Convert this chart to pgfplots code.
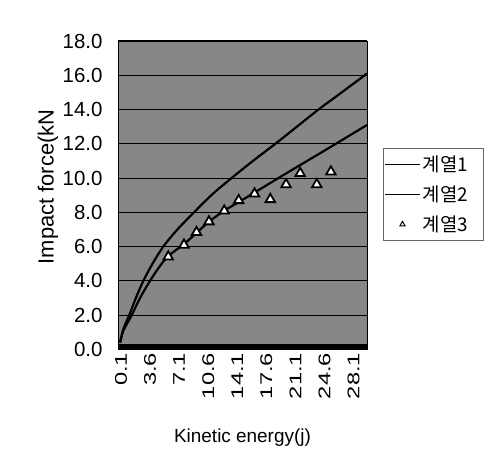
\documentclass[border=0pt]{standalone}
\usepackage{pgfplots}
\pgfplotsset{compat=1.18}
\usepackage{fontspec}
\setmainfont{Liberation Sans}
\newfontfamily\wide[FakeStretch=1.4]{Liberation Sans}
\newfontfamily\kr{Noto Sans CJK KR}
\definecolor{bg}{gray}{0.53}

\begin{document}
\begin{tikzpicture}
\begin{axis}[
  scale only axis, width=249bp, height=308.5bp,
  xmin=-0.15, xmax=29.85, ymin=0, ymax=18,
  axis background/.style={fill=bg},
  axis line style={black, line width=0.8bp},
  ymajorgrids, grid style={black, line width=1.1bp},
  major tick length=0pt,
  xtick={0.1,3.6,7.1,10.6,14.1,17.6,21.1,24.6,28.1},
  xticklabels={0.1,3.6,7.1,10.6,14.1,17.6,21.1,24.6,28.1},
  ytick={0,2,4,6,8,10,12,14,16,18},
  yticklabels={0.0,2.0,4.0,6.0,8.0,10.0,12.0,14.0,16.0,18.0},
  yticklabel style={font=\fontsize{20.5}{21}\selectfont, anchor=east, xshift=-12bp},
  xticklabel style={font=\wide\fontsize{17}{17}\selectfont, rotate=90, anchor=east, yshift=-1bp},
  xlabel={Kinetic energy(j)}, ylabel={Impact force(kN},
  xlabel style={at={(axis description cs:0.5,-0.284)}, anchor=center, font=\fontsize{19}{19}\selectfont},
  ylabel style={at={(axis description cs:-0.281,0.527)}, anchor=center, font=\fontsize{22}{22}\selectfont},
  legend style={at={(rel axis cs:1.064,0.652)}, anchor=north west, draw=black!60, fill=white,
    font=\kr\fontsize{19}{19}\selectfont, row sep=9bp, inner xsep=2bp, inner ysep=5bp},
  legend cell align=left,
]
\addplot[black, line width=2.2bp, smooth, tension=0.5,
  legend image code/.code={\draw[black, line width=0.7bp] (0bp,0bp) -- (35bp,0bp);}]
  coordinates {(0.1,0.4)(0.5,1.2)(1.2,2.0)(2.0,3.0)(2.9,4.0)(4.0,5.0)(5.3,6.0)(7.0,7.0)(9.0,8.0)
  (11.2,9.05)(13.4,9.95)(16.1,11.0)(18.8,12.0)(21.4,13.0)(24.0,14.0)(26.8,15.0)(29.85,16.1)};
\addlegendentry{계열1\rule{11bp}{0pt}}
\addplot[black, line width=2.2bp, smooth, tension=0.5,
  legend image code/.code={\draw[black, line width=0.7bp] (0bp,0bp) -- (35bp,0bp);}]
  coordinates {(0.1,0.4)(0.5,1.1)(1.5,2.0)(2.5,3.0)(3.7,4.0)(4.8,4.8)(5.9,5.45)(7.8,6.15)(9.3,6.8)
  (10.8,7.45)(12.65,8.1)(14.4,8.6)(16.1,9.1)(20.2,10.3)(25.4,11.8)(29.85,13.1)};
\addlegendentry{계열2\rule{11bp}{0pt}}
\addplot[only marks, mark=triangle*, mark size=5.5pt, mark options={fill=white, draw=black, line width=1.8bp},
  legend image code/.code={\draw[mark=triangle*, mark size=3pt, mark options={fill=white, draw=black, line width=1bp}] plot coordinates {(17bp,0bp)};}]
  coordinates {(5.91,5.41)(7.80,6.10)(9.31,6.84)(10.81,7.46)(12.65,8.09)(14.39,8.70)(16.30,9.09)
  (18.2,8.76)(20.1,9.63)(21.8,10.28)(23.8,9.63)(25.5,10.37)};
\addlegendentry{계열3\rule{11bp}{0pt}}
\draw[black, line width=7bp] ([yshift=2.5bp]rel axis cs:0,0) -- ([yshift=2.5bp]rel axis cs:1,0);
\end{axis}
\pgfresetboundingbox
\path (-118bp,-123.5bp) rectangle (368bp,349.5bp);
\end{tikzpicture}
\end{document}
